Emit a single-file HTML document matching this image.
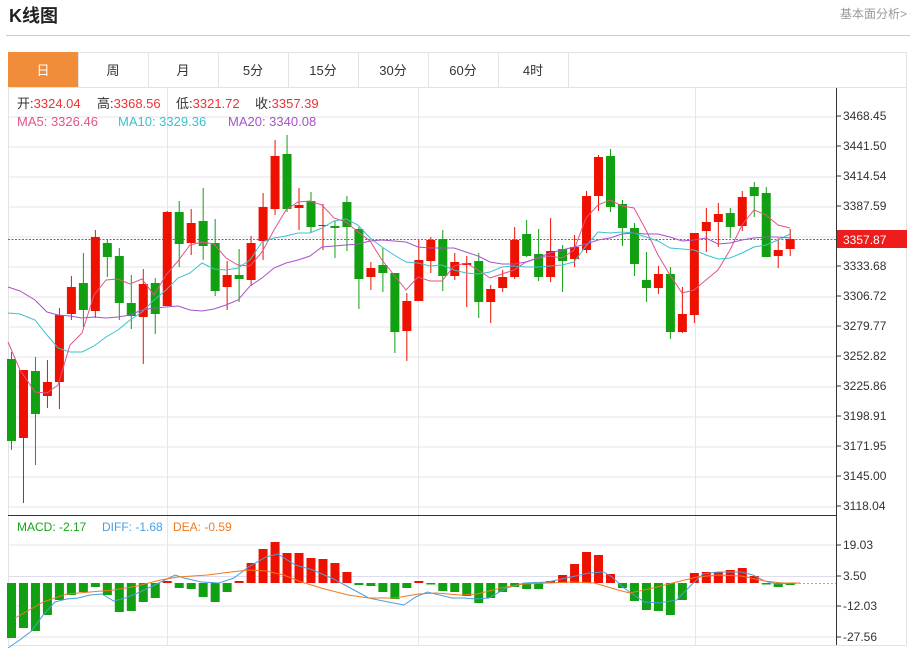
<!DOCTYPE html>
<html><head><meta charset="utf-8"><style>
body{margin:0;background:#fff;width:915px;height:648px;overflow:hidden;font-family:"Liberation Sans","Noto Sans CJK SC",sans-serif;}
</style></head><body>
<svg width="915" height="648" xmlns="http://www.w3.org/2000/svg" font-family="Liberation Sans, Noto Sans CJK SC, sans-serif">
<text x="9" y="22" font-size="18" font-weight="bold" fill="#222">K线图</text>
<text x="907" y="18" font-size="12" fill="#999" text-anchor="end">基本面分析&gt;</text>
<line x1="6" y1="35.5" x2="910" y2="35.5" stroke="#ccc"/>
<rect x="8.5" y="52.5" width="898" height="593" fill="none" stroke="#e3e3e3"/>
<line x1="8" y1="87.5" x2="907" y2="87.5" stroke="#e3e3e3"/>
<rect x="8" y="52" width="70" height="35" fill="#f08c3a"/>
<g stroke="#e3e3e3"><line x1="78.5" y1="52" x2="78.5" y2="87"/><line x1="148.5" y1="52" x2="148.5" y2="87"/><line x1="218.5" y1="52" x2="218.5" y2="87"/><line x1="288.5" y1="52" x2="288.5" y2="87"/><line x1="358.5" y1="52" x2="358.5" y2="87"/><line x1="428.5" y1="52" x2="428.5" y2="87"/><line x1="498.5" y1="52" x2="498.5" y2="87"/><line x1="568.5" y1="52" x2="568.5" y2="87"/></g>
<g font-size="13" text-anchor="middle" fill="#333"><text x="43" y="75" fill="#fff">日</text><text x="113" y="75">周</text><text x="183" y="75">月</text><text x="253" y="75">5分</text><text x="323" y="75">15分</text><text x="393" y="75">30分</text><text x="463" y="75">60分</text><text x="533" y="75">4时</text></g>
<g stroke="#e6e6ea">
<line x1="8" y1="117" x2="836" y2="117"/><line x1="8" y1="147" x2="836" y2="147"/><line x1="8" y1="177" x2="836" y2="177"/><line x1="8" y1="207" x2="836" y2="207"/><line x1="8" y1="237" x2="836" y2="237"/><line x1="8" y1="267" x2="836" y2="267"/><line x1="8" y1="297" x2="836" y2="297"/><line x1="8" y1="327" x2="836" y2="327"/><line x1="8" y1="357" x2="836" y2="357"/><line x1="8" y1="387" x2="836" y2="387"/><line x1="8" y1="417" x2="836" y2="417"/><line x1="8" y1="447" x2="836" y2="447"/><line x1="8" y1="477" x2="836" y2="477"/><line x1="8" y1="507" x2="836" y2="507"/>
<line x1="167.5" y1="88" x2="167.5" y2="645"/><line x1="418.5" y1="88" x2="418.5" y2="645"/><line x1="695.5" y1="88" x2="695.5" y2="645"/>
<line x1="8" y1="545" x2="836" y2="545"/><line x1="8" y1="606" x2="836" y2="606"/><line x1="8" y1="637" x2="836" y2="637"/>
</g>
<line x1="8" y1="576.5" x2="836" y2="576.5" stroke="#dde" />
<line x1="836.5" y1="88" x2="836.5" y2="645" stroke="#333"/>
<line x1="8" y1="515.5" x2="836" y2="515.5" stroke="#333"/>
<g font-size="12" fill="#333">
<text x="843" y="120">3468.45</text><text x="843" y="150">3441.50</text><text x="843" y="180">3414.54</text><text x="843" y="210">3387.59</text><text x="843" y="270">3333.68</text><text x="843" y="300">3306.72</text><text x="843" y="330">3279.77</text><text x="843" y="360">3252.82</text><text x="843" y="390">3225.86</text><text x="843" y="420">3198.91</text><text x="843" y="450">3171.95</text><text x="843" y="480">3145.00</text><text x="843" y="510">3118.04</text>
<text x="843" y="549">19.03</text><text x="843" y="580">3.50</text><text x="843" y="610">-12.03</text><text x="843" y="641">-27.56</text>
</g>
<g stroke="#333"><line x1="836" y1="116" x2="841" y2="116"/><line x1="836" y1="146" x2="841" y2="146"/><line x1="836" y1="176" x2="841" y2="176"/><line x1="836" y1="206" x2="841" y2="206"/><line x1="836" y1="266" x2="841" y2="266"/><line x1="836" y1="296" x2="841" y2="296"/><line x1="836" y1="326" x2="841" y2="326"/><line x1="836" y1="356" x2="841" y2="356"/><line x1="836" y1="386" x2="841" y2="386"/><line x1="836" y1="416" x2="841" y2="416"/><line x1="836" y1="446" x2="841" y2="446"/><line x1="836" y1="476" x2="841" y2="476"/><line x1="836" y1="506" x2="841" y2="506"/><line x1="836" y1="545" x2="841" y2="545"/><line x1="836" y1="576" x2="841" y2="576"/><line x1="836" y1="606" x2="841" y2="606"/><line x1="836" y1="637" x2="841" y2="637"/></g>
<rect x="837" y="230" width="70" height="18" fill="#ee1c1c"/>
<text x="843" y="244" font-size="12" fill="#fff">3357.87</text>
<line x1="8" y1="239.5" x2="836" y2="239.5" stroke="#ff3030" stroke-dasharray="2,1.5"/>
<line x1="795" y1="583.5" x2="836" y2="583.5" stroke="#7ab8e8" stroke-dasharray="2,2"/>
<g font-size="13">
<text x="17" y="108" fill="#333">开:<tspan fill="#e33">3324.04</tspan></text>
<text x="97" y="108" fill="#333">高:<tspan fill="#e33">3368.56</tspan></text>
<text x="176" y="108" fill="#333">低:<tspan fill="#e33">3321.72</tspan></text>
<text x="255" y="108" fill="#333">收:<tspan fill="#e33">3357.39</tspan></text>
<text x="17" y="126" fill="#e0558a">MA5: 3326.46</text>
<text x="118" y="126" fill="#3cc0d0">MA10: 3329.36</text>
<text x="228" y="126" fill="#a653c8">MA20: 3340.08</text>
</g>
<g font-size="12">
<text x="17" y="531" fill="#1aa31a">MACD: -2.17</text>
<text x="102" y="531" fill="#4a9ee0">DIFF: -1.68</text>
<text x="173" y="531" fill="#f07a20">DEA: -0.59</text>
</g>
<g id="candles"></g>
<g id="macd"></g>
<polyline id="ma5" fill="none" stroke="#e0558a" stroke-width="1"/>
<polyline id="ma10" fill="none" stroke="#3cc0d0" stroke-width="1"/>
<polyline id="ma20" fill="none" stroke="#a653c8" stroke-width="1"/>
<polyline id="diff" fill="none" stroke="#4a9ee0" stroke-width="1"/>
<polyline id="dea" fill="none" stroke="#f07a20" stroke-width="1"/>
</svg>
<script>
var NS="http://www.w3.org/2000/svg";
var C=[[0,359,441,352,450],[1,370,438,370,503],[0,371,414,357,465],[1,382,396,360,408],[1,315,382,308,409],[1,287,314,276,320],[0,283,310,253,327],[1,237,311,230,318],[0,243,257,240,277],[0,256,303,248,320],[0,303,316,275,329],[1,284,317,269,364],[0,283,314,278,334],[1,212,306,211,306],[0,212,244,201,267],[1,223,243,209,255],[0,221,246,188,260],[0,243,291,219,296],[1,275,287,261,310],[0,275,279,249,302],[1,243,280,236,286],[1,207,241,193,260],[1,156,209,140,215],[0,154,209,135,212],[1,205,208,188,230],[0,201,227,192,233],[1,225,226,204,250],[0,226,228,221,258],[0,202,227,196,251],[0,229,279,227,309],[1,268,277,262,290],[0,265,273,248,292],[0,273,332,273,353],[1,301,331,293,361],[1,260,301,240,301],[1,240,261,237,273],[0,239,276,230,291],[1,262,276,253,280],[1,263,265,256,307],[0,261,302,253,318],[1,289,302,285,323],[1,277,288,270,292],[1,240,277,227,279],[0,234,256,220,257],[0,254,277,229,281],[1,251,277,218,282],[0,249,261,245,292],[1,247,259,235,267],[1,196,250,191,253],[1,157,196,155,211],[0,156,207,149,212],[0,204,228,200,246],[0,228,264,223,276],[0,280,288,252,302],[1,274,288,266,294],[0,274,332,267,339],[1,314,332,287,333],[1,233,315,233,323],[1,222,231,208,252],[1,214,222,203,247],[0,213,227,208,238],[1,197,226,191,231],[0,187,196,182,217],[0,193,257,187,257],[1,250,256,238,268],[1,239,249,229,256]];
var g=document.getElementById("candles");
function el(t,a,p){var e=document.createElementNS(NS,t);for(var k in a)e.setAttribute(k,a[k]);p.appendChild(e);return e;}
C.forEach(function(c,i){var x=11.5+i*11.98;var col=c[0]?"#ee1100":"#11a011";
el("line",{x1:x,y1:c[3],x2:x,y2:c[4],stroke:col,"stroke-width":1},g);
el("rect",{x:x-4.5,y:c[1],width:9,height:Math.max(1,c[2]-c[1]),fill:col},g);});
var M=[638,628,631,615,600,595,592,587,595,612,611,602,598,581,588,589,597,602,592,581,563,549,542,553,553,558,559,563,572,585,586,592,599,588,581,584,591,592,596,603,598,592,587,589,589,581,575,564,552,555,574,588,601,610,611,615,600,573,572,572,570,568,576,584,587,585];
var reds={14:1,20:1,35:1,46:1};
var m=document.getElementById("macd");
M.forEach(function(v,i){var x=11.5+i*11.98;var z=583;var red=v<z||reds[i+1];
var y1=Math.min(v,z),h=Math.max(1.5,Math.abs(v-z));if(reds[i+1]){y1=581;h=2;}
el("rect",{x:x-4.5,y:y1,width:9,height:h,fill:red?"#ee1100":"#11a011"},m);});
function pl(id,pts){document.getElementById(id).setAttribute("points",pts.map(function(p){return p[0]+","+p[1]}).join(" "));}
pl("ma5",[[8,342],[20,370],[35,392],[47,393],[58,385],[70,345],[82,333],[94,295],[106,280],[118,279],[130,284],[142,279],[154,295],[166,275],[178,261],[190,245],[202,242],[214,244],[226,258],[238,265],[250,266],[262,252],[274,230],[286,210],[298,202],[310,201],[322,205],[334,218],[346,222],[358,232],[370,241],[382,260],[394,275],[406,290],[418,277],[430,281],[442,281],[454,266],[466,263],[478,270],[490,278],[502,274],[514,270],[526,262],[538,258],[550,256],[562,258],[574,250],[586,218],[598,205],[610,200],[622,206],[634,208],[646,230],[658,255],[670,275],[682,293],[694,290],[706,280],[718,270],[730,250],[742,225],[754,210],[766,215],[778,225],[790,228]]);
pl("ma10",[[8,313],[20,314],[35,320],[47,335],[58,348],[70,352],[82,352],[94,346],[106,337],[118,330],[130,320],[142,312],[154,300],[166,290],[178,278],[190,273],[202,263],[214,269],[226,270],[238,268],[250,260],[262,242],[274,238],[286,236],[298,233],[310,233],[322,228],[334,221],[346,219],[358,225],[370,238],[382,247],[394,255],[406,262],[418,263],[430,266],[442,265],[454,270],[466,273],[478,274],[490,272],[502,267],[514,266],[526,267],[538,267],[550,266],[562,265],[574,262],[586,246],[598,232],[610,233],[622,232],[634,233],[646,237],[658,241],[670,248],[682,249],[694,250],[706,255],[718,259],[730,258],[742,253],[754,247],[766,245],[778,240],[790,234]]);
pl("ma20",[[8,287],[20,291],[35,300],[47,312],[58,315],[70,316],[82,318],[94,317],[106,318],[118,317],[130,315],[142,310],[154,308],[166,307],[178,306],[190,310],[202,311],[214,309],[226,305],[238,300],[250,286],[262,278],[274,268],[286,263],[298,260],[310,256],[322,247],[334,246],[346,245],[358,244],[370,241],[382,240],[394,241],[406,242],[418,247],[430,248],[442,248],[454,248],[466,252],[478,256],[490,262],[502,264],[514,264],[526,262],[538,258],[550,253],[562,250],[574,247],[586,244],[598,240],[610,238],[622,234],[634,233],[646,234],[658,234],[670,237],[682,241],[694,240],[706,238],[718,244],[730,243],[742,240],[754,238],[766,237],[778,237],[790,238]]);
var D=[[0,648],[20,640],[40,631],[60,615],[80,602],[100,599],[120,598],[140,595],[160,594],[180,601],[200,598],[225,592],[250,585],[285,575],[300,578],[330,582],[360,583],[385,578],[410,567],[440,557],[460,554],[490,565],[520,570],[555,579],[590,590],[615,598],[640,601],[675,605],[695,597],[715,592],[757,598],[777,598],[797,599],[820,598],[850,588],[880,583],[920,582],[960,577],[990,573],[1015,572],[1030,577],[1050,588],[1085,602],[1110,603],[1140,600],[1165,585],[1185,574],[1210,572],[1250,572],[1270,575],[1290,581],[1310,584],[1340,583]];
var E=[[12,618],[30,612],[60,602],[100,594],[140,592],[180,590],[220,586],[260,580],[290,577],[340,575],[380,572],[410,570],[440,571],[470,575],[500,582],[540,589],[580,595],[615,598],[660,598],[700,594],[730,593],[770,595],[800,594],[840,588],[880,584],[920,583],[960,582],[1000,583],[1040,590],[1060,593],[1100,588],[1140,582],[1175,577],[1210,575],[1250,576],[1290,581],[1320,583],[1350,583]];
pl("diff",D.map(function(p){return[8+p[0]/1.705,p[1]]}));
pl("dea",E.map(function(p){return[8+p[0]/1.705,p[1]]}));
</script>
</body></html>
